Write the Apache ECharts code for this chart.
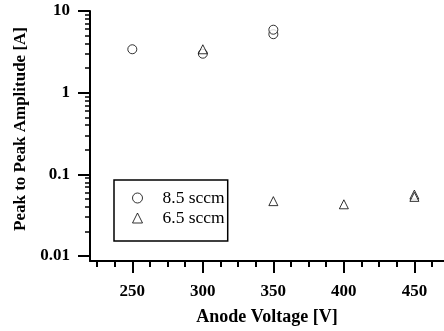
<!DOCTYPE html>
<html><head><meta charset="utf-8">
<script src="https://cdn.jsdelivr.net/npm/echarts@6/dist/echarts.min.js"></script>
<style>html,body{margin:0;padding:0;background:#fff}#c{width:444px;height:331px}</style>
</head><body><div id="c"></div>
<script>
// Data
const x85 = [250, 300, 350, 350];
const y85 = [3.4, 3.0, 5.2, 5.9];
const x65 = [300, 350, 400, 450, 450];
const y65 = [3.4, 0.047, 0.043, 0.0565, 0.053];
const seriesNames = ['8.5 sccm', '6.5 sccm'];
const xMajor = [250, 300, 350, 400, 450];
const xMinor = [225, 237.5, 262.5, 275, 287.5, 312.5, 325, 337.5, 362.5, 375, 387.5, 412.5, 425, 437.5, 462.5];
const yMajor = [0.01, 0.1, 1, 10];
const yMinor = [0.02,0.03,0.04,0.05,0.06,0.07,0.08,0.09,0.2,0.3,0.4,0.5,0.6,0.7,0.8,0.9,2,3,4,5,6,7,8,9];

const F = 'Liberation Serif';
const chart = echarts.init(document.getElementById('c'), null, {renderer: 'canvas'});
const xBase = {type: 'value', min: 220, max: 471, splitLine: {show: false}};
const yBase = {type: 'log', min: 0.00869, max: 10, splitLine: {show: false}};
chart.setOption({
  animation: false,
  grid: {left: 90, right: 0, top: 11, bottom: 69, containLabel: false},
  xAxis: [
    Object.assign({}, xBase, {
      axisLine: {show: true, lineStyle: {color: '#000', width: 2}},
      axisTick: {show: true, length: 12, lineStyle: {color: '#000', width: 2}, customValues: xMajor},
      axisLabel: {customValues: xMajor, margin: 22, color: '#000', fontFamily: F, fontWeight: 'bold', fontSize: 17},
      name: 'Anode Voltage [V]', nameLocation: 'middle', nameGap: 47,
      nameTextStyle: {color: '#000', fontFamily: F, fontWeight: 'bold', fontSize: 18}
    }),
    Object.assign({}, xBase, {
      position: 'bottom',
      axisLine: {show: false},
      axisTick: {show: true, length: 6, lineStyle: {color: '#000', width: 2}, customValues: xMinor},
      axisLabel: {show: false}
    })
  ],
  yAxis: [
    Object.assign({}, yBase, {
      axisLine: {show: true, lineStyle: {color: '#000', width: 2}},
      axisTick: {show: true, length: 12, lineStyle: {color: '#000', width: 2}, customValues: yMajor},
      axisLabel: {customValues: yMajor, margin: 20, color: '#000', fontFamily: F, fontWeight: 'bold', fontSize: 17,
        formatter: v => String(+v.toPrecision(3))},
      name: 'Peak to Peak Amplitude [A]', nameLocation: 'middle', nameGap: 58,
      nameTextStyle: {color: '#000', fontFamily: F, fontWeight: 'bold', fontSize: 17, padding: [0, 0, 0, 14]}
    }),
    Object.assign({}, yBase, {
      position: 'left',
      axisLine: {show: false},
      axisTick: {show: true, length: 5, lineStyle: {color: '#000', width: 1.5}, customValues: yMinor},
      axisLabel: {show: false}
    })
  ],
  legend: {
    left: 114, top: 180, orient: 'vertical',
    borderColor: '#000', borderWidth: 1.5, borderRadius: 0,
    padding: [9, 3, 14, 18], itemGap: 2,
    itemWidth: 10, itemHeight: 10,
    itemStyle: {borderWidth: 1},
    textStyle: {color: '#000', fontFamily: F, fontSize: 17.5, padding: [0, 0, 0, 15]},
    data: seriesNames
  },
  series: [
    {name: seriesNames[0], type: 'scatter', symbol: 'circle', symbolSize: 9,
     itemStyle: {color: '#fff', borderColor: '#000', borderWidth: 1},
     data: x85.map((x, i) => [x, y85[i]])},
    {name: seriesNames[1], type: 'scatter', symbol: 'triangle', symbolSize: 9,
     itemStyle: {color: '#fff', borderColor: '#000', borderWidth: 1},
     data: x65.map((x, i) => [x, y65[i]])}
  ]
});
</script></body></html>
